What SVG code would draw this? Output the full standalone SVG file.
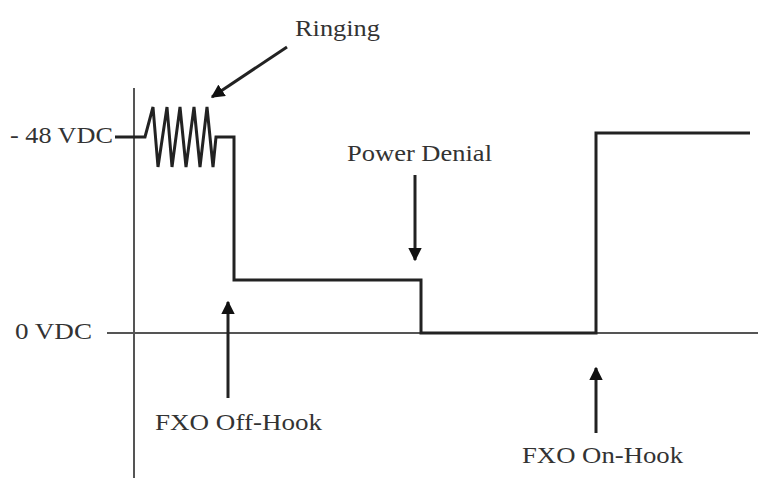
<svg xmlns="http://www.w3.org/2000/svg" width="758" height="479" viewBox="0 0 758 479">
<style>
  .lbl { font-family: "Liberation Serif", "Times New Roman", serif; font-size: 24px; fill: #333; }
  .axis { stroke: #555; stroke-width: 2; fill: none; }
  .wave { stroke: #222; stroke-width: 3; fill: none; stroke-linejoin: miter; }
  .arr { stroke: #222; stroke-width: 3; fill: none; }
</style>
<defs>
  <marker id="ah" viewBox="0 0 10 10" refX="9" refY="5" markerWidth="4.5" markerHeight="4.5" orient="auto" markerUnits="strokeWidth">
    <path d="M0,0 L10,5 L0,10 z" fill="#111"/>
  </marker>
</defs>
<rect width="758" height="479" fill="#fff"/>
<g id="axes">
  <line class="axis" x1="134" y1="88" x2="134" y2="478"/>
  <line class="axis" x1="107" y1="333" x2="758" y2="333"/>
</g>
<g id="waveform">
  <path class="wave" d="M115,137 L145,137 L153,107 L158,167 L167,107 L172,167 L180,107 L186,167 L194,107 L200,167 L207,107 L213,167 L216,137 L234,137 L234,280 L421,280 L421,333 L596,333 L596,133 L750,133"/>
</g>
<g id="connectors">
  <line class="arr" x1="287" y1="47" x2="212" y2="97" marker-end="url(#ah)"/>
  <line class="arr" x1="415" y1="175" x2="415" y2="260" marker-end="url(#ah)"/>
  <line class="arr" x1="228" y1="398" x2="228" y2="302" marker-end="url(#ah)"/>
  <line class="arr" x1="596" y1="433" x2="596" y2="368" marker-end="url(#ah)"/>
</g>
<g id="label-ringing"><text class="lbl" x="295" y="36" textLength="85" lengthAdjust="spacingAndGlyphs">Ringing</text></g>
<g id="label-48"><text class="lbl" x="10" y="143" textLength="103" lengthAdjust="spacingAndGlyphs">- 48 VDC</text></g>
<g id="label-0"><text class="lbl" x="15" y="339" textLength="77" lengthAdjust="spacingAndGlyphs">0 VDC</text></g>
<g id="label-power"><text class="lbl" x="347" y="161" textLength="145" lengthAdjust="spacingAndGlyphs">Power Denial</text></g>
<g id="label-offhook"><text class="lbl" x="155" y="430" textLength="167" lengthAdjust="spacingAndGlyphs">FXO Off-Hook</text></g>
<g id="label-onhook"><text class="lbl" x="522" y="463" textLength="161" lengthAdjust="spacingAndGlyphs">FXO On-Hook</text></g>
</svg>
